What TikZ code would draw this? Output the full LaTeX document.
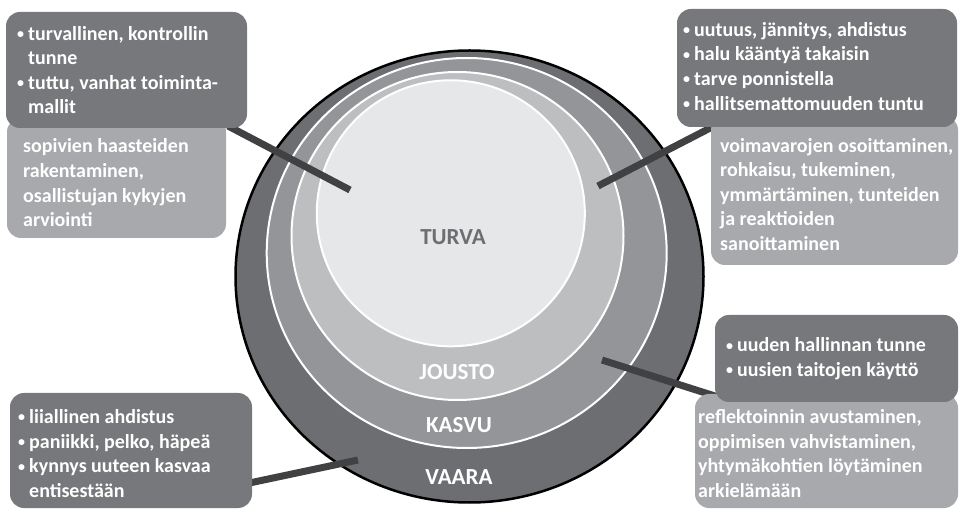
\documentclass[tikz,border=0pt]{standalone}
\usepackage{graphicx}
\usepackage{fontspec}
\setmainfont{Carlito}
\definecolor{vaaragray}{HTML}{6D6E71}
\definecolor{kasvugray}{HTML}{939598}
\definecolor{joustogray}{HTML}{BCBEC0}
\definecolor{turvagray}{HTML}{E6E7E8}
\definecolor{boxdark}{HTML}{77787B}
\definecolor{boxlight}{HTML}{A7A9AC}
\definecolor{linegray}{HTML}{414042}
% small bullet in a fixed-width slot, and an equally wide blank for wrapped lines
\newcommand{\itembul}{\makebox[13pt][l]{\hspace{2pt}\raisebox{1.6pt}{\scalebox{0.7}{\textbullet}}}}
\newcommand{\itemgap}{\hspace{13pt}}
\begin{document}
\begin{tikzpicture}[x=1pt,y=-1pt,
  darkbox/.style={fill=boxdark, rounded corners=14pt},
  lightbox/.style={fill=boxlight, rounded corners=14pt},
  boxtext/.style={anchor=north west, inner sep=0pt, text=white, align=left,
    font=\fontsize{20}{24.6}\selectfont\bfseries},
  ringlabel/.style={inner sep=0pt, text=white, font=\fontsize{23}{27}\selectfont\bfseries},
  connector/.style={draw=linegray, line width=7pt}]
\useasboundingbox (0,0) rectangle (959,510);

% nested rings
\filldraw[fill=vaaragray, draw=black, line width=2.5pt] (469.5,276.5) ellipse [x radius=234, y radius=226];
\filldraw[fill=kasvugray, draw=white, line width=2pt] (466.7,253) ellipse [x radius=200, y radius=195];
\filldraw[fill=joustogray, draw=white, line width=2pt] (457.5,236) ellipse [x radius=166, y radius=164];
\filldraw[fill=turvagray, draw=white, line width=2pt] (450.8,213.3) ellipse [x radius=134, y radius=133];

\node[ringlabel, text=vaaragray] (turva) at (453,237) {TURVA};
\node[ringlabel] (jousto) at (457,372) {JOUSTO};
\node[ringlabel] (kasvu) at (459,425) {KASVU};
\node[ringlabel] (vaara) at (459,477) {VAARA};

% connector end points
\coordinate (tl-in) at (350,190);
\coordinate (tl-out) at (228,126);
\coordinate (tr-in) at (598,186);
\coordinate (tr-out) at (718,124);
\coordinate (br-in) at (602,360);
\coordinate (br-out) at (718,397);
\coordinate (bl-in) at (358,460);
\coordinate (bl-out) at (240,485);

\draw[connector] (tl-in) -- (tl-out);
\draw[connector] (tr-in) -- (tr-out);
\draw[connector] (br-in) -- (br-out);
\draw[connector] (bl-in) -- (bl-out);

% callout boxes
\fill[lightbox] (7,118) rectangle (226,238);
\fill[darkbox] (6,12) rectangle (247,128);
\fill[lightbox] (711,116) rectangle (958,265);
\fill[darkbox] (677,9) rectangle (957,127);
\fill[lightbox] (695,394) rectangle (958,508);
\fill[darkbox] (715,315) rectangle (958,402);
\fill[darkbox] (10,393) rectangle (252,508);

\node[boxtext] (tl-dark) at (15,22.6)
  {\strut\itembul turvallinen, kontrollin\\ \itemgap tunne\\ \itembul tuttu, vanhat toiminta-\\ \itemgap mallit};
\node[boxtext] (tl-light) at (23,135.4)
  {\strut sopivien haasteiden\\ rakentaminen,\\ osallistujan kykyjen\\ arviointi};
\node[boxtext] (tr-dark) at (681,18.9)
  {\strut\itembul uutuus, jännitys, ahdistus\\ \itembul halu kääntyä takaisin\\ \itembul tarve ponnistella\\ \itembul hallitsemattomuuden tuntu};
\node[boxtext] (tr-light) at (720,134.6)
  {\strut voimavarojen osoittaminen,\\ rohkaisu, tukeminen,\\ ymmärtäminen, tunteiden\\ ja reaktioiden\\ sanoittaminen};
\node[boxtext] (br-dark) at (724,334.5)
  {\strut\itembul uuden hallinnan tunne\\ \itembul uusien taitojen käyttö};
\node[boxtext] (br-light) at (698,406.2)
  {\strut reflektoinnin avustaminen,\\ oppimisen vahvistaminen,\\ yhtymäkohtien löytäminen\\ arkielämään};
\node[boxtext] (bl-dark) at (16,406)
  {\strut\itembul liiallinen ahdistus\\ \itembul paniikki, pelko, häpeä\\ \itembul kynnys uuteen kasvaa\\ \itemgap entisestään};
\end{tikzpicture}
\end{document}
